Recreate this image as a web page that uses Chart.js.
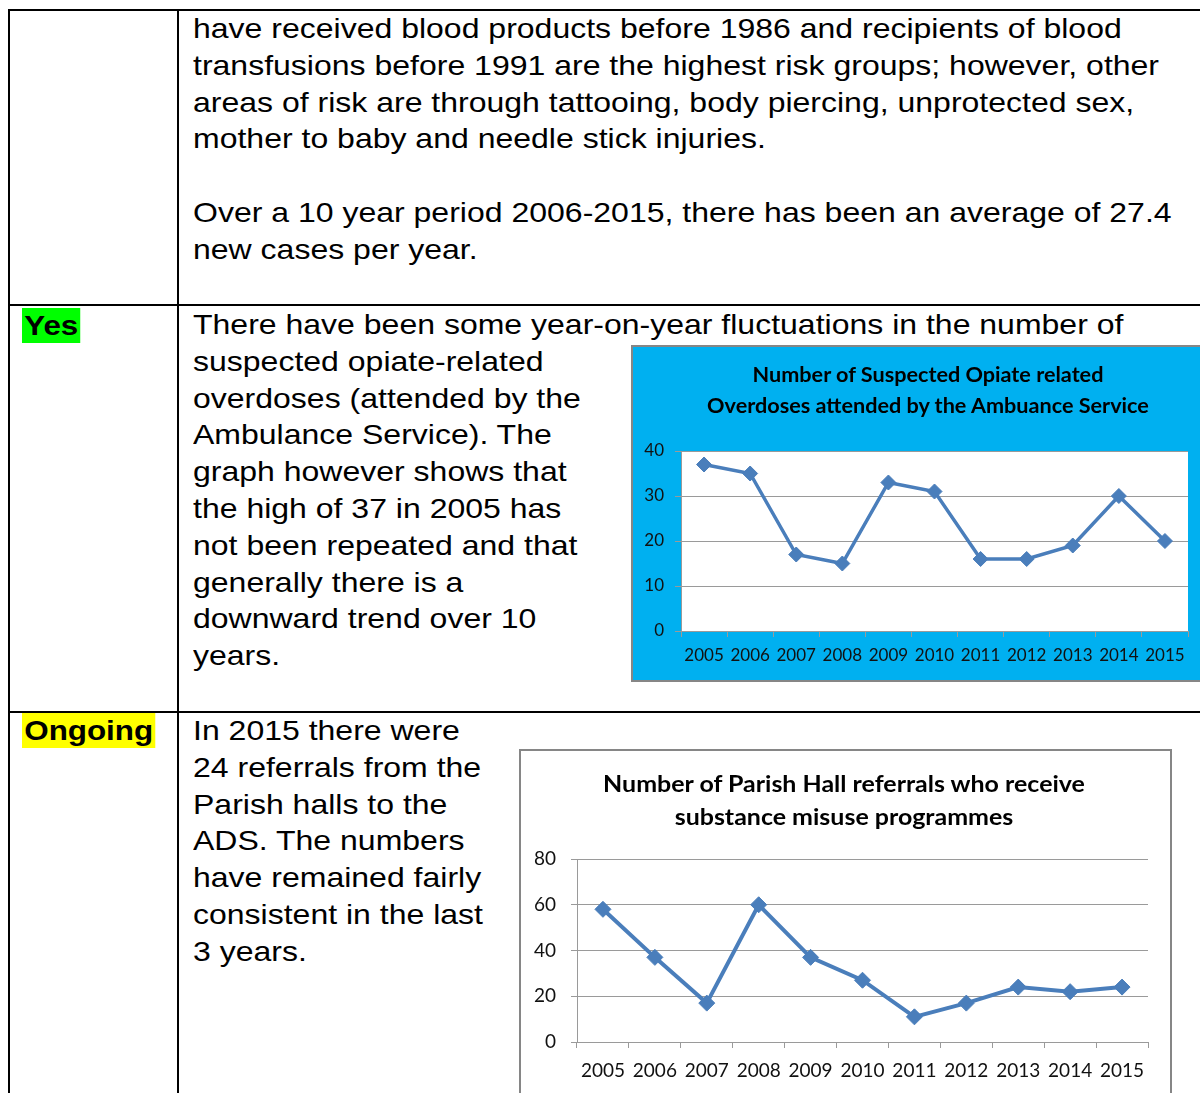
<!DOCTYPE html>
<html>
<head>
<meta charset="utf-8">
<script src="https://cdn.jsdelivr.net/npm/chart.js@4.4.0/dist/chart.umd.min.js"></script>
<style>
  body { margin: 0; width: 1200px; height: 1093px; overflow: hidden; position: relative; background: #fff;
         font-family: "Liberation Sans", Arial, sans-serif; color: #000; }
  .rule { position: absolute; background: #000; }
  .txt { position: absolute; left: 193px; font-size: 28px; line-height: 36.8px; white-space: nowrap;
         transform: scaleX(1.143); transform-origin: left top; }
  .tag { position: absolute; left: 22px; font-size: 28px; font-weight: bold; height: 35px; line-height: 35px; padding: 0 2px;
         transform: scaleX(1.12); transform-origin: left top; }
  .box { position: absolute; box-sizing: border-box; border: 2px solid #868686; }
  .ctitle { position: absolute; width: 600px; text-align: center; font-family: Lato, sans-serif; font-weight: bold; color: #000; white-space: nowrap; }
</style>
</head>
<body>

<!-- table rules -->
<div class="rule" style="left:8px;top:9px;width:1192px;height:2px"></div>
<div class="rule" style="left:8px;top:9px;width:2px;height:1084px"></div>
<div class="rule" style="left:177px;top:9px;width:2px;height:1084px"></div>
<div class="rule" style="left:8px;top:304px;width:1192px;height:2px"></div>
<div class="rule" style="left:8px;top:711px;width:1192px;height:2px"></div>

<div class="txt" style="top:11px">have received blood products before 1986 and recipients of blood<br>transfusions before 1991 are the highest risk groups; however, other<br>areas of risk are through tattooing, body piercing, unprotected sex,<br>mother to baby and needle stick injuries.<br><br>Over a 10 year period 2006-2015, there has been an average of 27.4<br>new cases per year.</div>

<div class="tag" style="top:308px;background:#00ff00">Yes</div>
<div class="txt" style="top:307px">There have been some year-on-year fluctuations in the number of<br>suspected opiate-related<br>overdoses (attended by the<br>Ambulance Service). The<br>graph however shows that<br>the high of 37 in 2005 has<br>not been repeated and that<br>generally there is a<br>downward trend over 10<br>years.</div>

<div class="tag" style="top:713px;background:#ffff00">Ongoing</div>
<div class="txt" style="top:713px">In 2015 there were<br>24 referrals from the<br>Parish halls to the<br>ADS. The numbers<br>have remained fairly<br>consistent in the last<br>3 years.</div>

<div class="box" style="left:631px;top:345px;width:594px;height:337px;background:#00b0f0">
  <div style="position:relative;width:590px;height:333px"><canvas id="opiateChart"></canvas></div>
</div>
<div class="ctitle" id="opiateTitle" style="left:628px;top:358px;font-size:21px;line-height:31px;transform:scaleX(1.03)"></div>

<div class="box" style="left:519px;top:749px;width:653px;height:360px;background:#fff">
  <div style="position:relative;width:649px;height:345px"><canvas id="parishChart"></canvas></div>
</div>
<div class="ctitle" id="parishTitle" style="left:544px;top:766.5px;font-size:22px;line-height:33px;transform:scaleX(1.135)"></div>

<script>
// data
var years = ['2005', '2006', '2007', '2008', '2009', '2010', '2011', '2012', '2013', '2014', '2015'];
var overdoses = [37, 35, 17, 15, 33, 31, 16, 16, 19, 30, 20];
var referrals = [58, 37, 17, 60, 37, 27, 11, 17, 24, 22, 24];

var opiateTitle = ['Number of Suspected Opiate related', 'Overdoses attended by the Ambuance Service'];
var parishTitle = ['Number of Parish Hall referrals who receive', 'substance misuse programmes'];

var lineBlue = '#4a7ebb';
var gridGrey = '#9a9a9a';

// chart titles go in as html text above the canvas
function setTitle(id, lines) {
  var el = document.getElementById(id);
  lines.forEach(function(l, i) {
    if (i) el.appendChild(document.createElement('br'));
    el.appendChild(document.createTextNode(l));
  });
}
setTitle('opiateTitle', opiateTitle);
setTitle('parishTitle', parishTitle);

// paint the plot area white (the first chart sits on blue)
var plotBg = {
  id: 'plotBg',
  beforeDraw: function(chart, args, opts) {
    if (!opts.color) return;
    var a = chart.chartArea, c = chart.ctx;
    c.save();
    c.fillStyle = opts.color;
    c.fillRect(a.left, a.top, a.right - a.left, a.bottom - a.top);
    c.restore();
  }
};

function makeChart(id, values, s) {
  return new Chart(document.getElementById(id), {
    type: 'line',
    data: {
      labels: years,
      datasets: [{
        data: values,
        borderColor: lineBlue,
        backgroundColor: lineBlue,
        borderWidth: s.lineW,
        pointStyle: 'rectRot',
        pointRadius: s.pointR,
        pointBorderWidth: 1,
        pointBackgroundColor: lineBlue,
        pointBorderColor: lineBlue,
        tension: 0
      }]
    },
    options: {
      responsive: true,
      maintainAspectRatio: false,
      animation: false,
      devicePixelRatio: 1,
      layout: { padding: { left: 0, right: s.padR, top: s.padT, bottom: 0 } },
      plugins: {
        legend: { display: false },
        tooltip: { enabled: false },
        plotBg: { color: '#fff' }
      },
      scales: {
        x: {
          offset: true,
          afterFit: function(sc) { sc.height = s.xH; },
          grid: { offset: true, drawOnChartArea: false, drawTicks: true, tickLength: 6, color: gridGrey },
          border: { display: true, color: gridGrey, width: 1 },
          ticks: { color: '#111', font: { family: 'Lato', size: s.xFont }, padding: s.xPad, maxRotation: 0, autoSkip: false }
        },
        y: {
          min: 0,
          max: s.yMax,
          afterFit: function(sc) { sc.width = s.yW; },
          grid: { color: gridGrey, drawTicks: true, tickLength: 6 },
          border: { display: true, color: gridGrey, width: 1 },
          ticks: { stepSize: s.yStep, color: '#111', font: { family: 'Lato', size: s.yFont }, padding: s.yPad }
        }
      }
    },
    plugins: [plotBg]
  });
}

makeChart('opiateChart', overdoses, {
  lineW: 3.5, pointR: 7.5, padR: 35, padT: 104,
  xH: 49, xFont: 17, xPad: 8,
  yW: 48, yMax: 40, yStep: 10, yFont: 17, yPad: 11
});

makeChart('parishChart', referrals, {
  lineW: 4, pointR: 8, padR: 22, padT: 108,
  xH: 54, xFont: 19, xPad: 11,
  yW: 56, yMax: 80, yStep: 20, yFont: 19, yPad: 15
});
</script>
</body>
</html>
